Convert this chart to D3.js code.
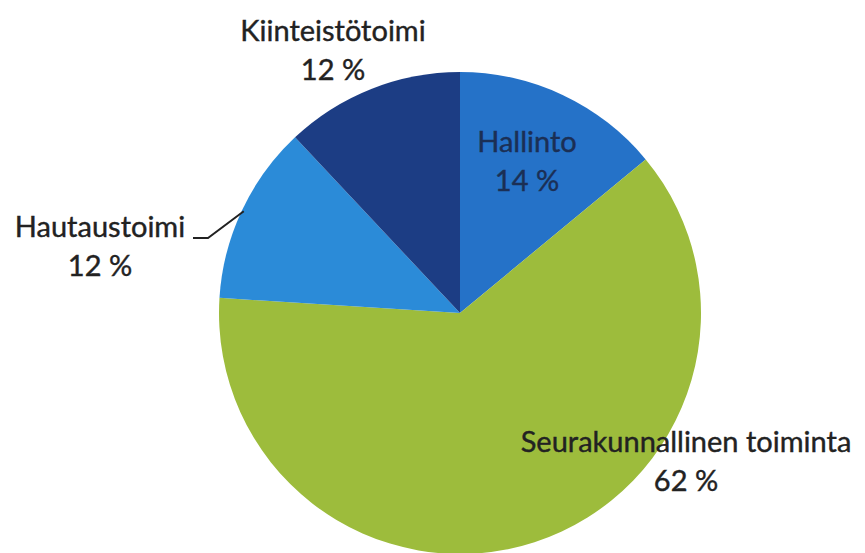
<!DOCTYPE html>
<html><head><meta charset="utf-8">
<script src="https://cdn.jsdelivr.net/npm/d3@7"></script>
<style>html,body{margin:0;padding:0;background:#fff;}svg{display:block;}</style>
</head><body>
<svg id="c" width="865" height="553"></svg>
<script>
const categories = ["Hallinto", "Seurakunnallinen toiminta", "Hautaustoimi", "Kiinteistötoimi"];
const values = [14, 62, 12, 12];
const colors = ["#2572c8", "#9dbc3c", "#2b8bd8", "#1c3d84"];

const svg = d3.select("#c");
const cx = 460, cy = 313, r = 241;
const g = svg.append("g").attr("transform", `translate(${cx},${cy})`);
const pie = d3.pie().sort(null).value(d => d)(values);
const arc = d3.arc().innerRadius(0).outerRadius(r);
g.selectAll("path").data(pie).enter().append("path")
  .attr("d", arc).attr("fill", (d, i) => colors[i]);

const font = "Lato, 'Open Sans', sans-serif";
const labels = [
  {i: 0, x: 527, y: 152, fill: "#1b2f55"},
  {i: 1, x: 686, y: 452, fill: "#222"},
  {i: 2, x: 100, y: 237, fill: "#222"},
  {i: 3, x: 333, y: 41, fill: "#222"}
];
labels.forEach(l => {
  const t = svg.append("text").attr("text-anchor", "middle")
    .attr("font-family", font).attr("font-size", 29).attr("fill", l.fill)
    .attr("stroke", l.fill).attr("stroke-width", 0.4);
  t.append("tspan").attr("x", l.x).attr("y", l.y).text(categories[l.i]);
  t.append("tspan").attr("x", l.x).attr("y", l.y + 39).text(values[l.i] + " %");
});
// leader line for Hautaustoimi
const mid = pie[2];
const a = (mid.startAngle + mid.endAngle) / 2;
const ex = cx + Math.sin(a) * (r - 2), ey = cy - Math.cos(a) * (r - 2);
svg.append("polyline")
  .attr("points", [[193, 238], [208, 238], [ex, ey]].map(p => p.join(",")).join(" "))
  .attr("fill", "none").attr("stroke", "#222").attr("stroke-width", 2);
</script>
</body></html>
